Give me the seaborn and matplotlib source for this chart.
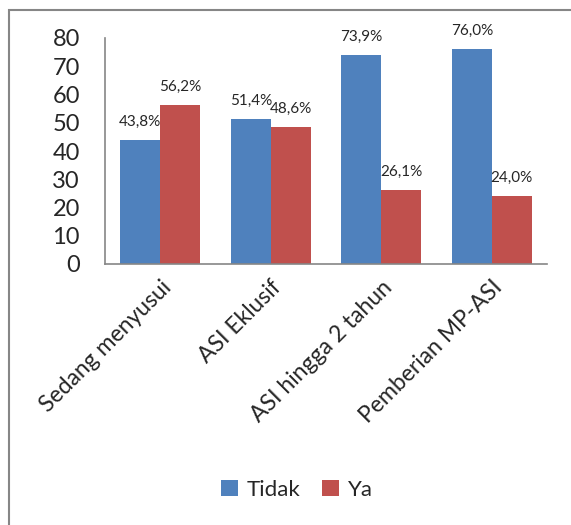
import pandas as pd
import seaborn as sns
import matplotlib.pyplot as plt
from matplotlib.patches import Rectangle

# Data
categories = ['Sedang menyusui', 'ASI Eklusif', 'ASI hingga 2 tahun', 'Pemberian MP-ASI']
tidak = [43.8, 51.4, 73.9, 76.0]
ya = [56.2, 48.6, 26.1, 24.0]
series = ['Tidak', 'Ya']

df = pd.DataFrame({
    'kategori': categories * 2,
    'nilai': tidak + ya,
    'seri': ['Tidak'] * len(categories) + ['Ya'] * len(categories),
})

sns.set_theme(style="white")
plt.rcParams['font.family'] = ['Lato', 'DejaVu Sans']

fig = plt.figure(figsize=(5.71, 5.25), dpi=100)
ax = fig.add_axes([105 / 571, 1 - 264 / 525, 442 / 571, 226 / 525])

palette = {'Tidak': '#4F81BD', 'Ya': '#C0504D'}
sns.barplot(data=df, x='kategori', y='nilai', hue='seri', order=categories,
            hue_order=series, palette=palette, width=0.72, saturation=1,
            linewidth=0, ax=ax, legend=True)

# value labels
for container in ax.containers:
    labels = [f"{v:.1f}".replace('.', ',') + '%' for v in container.datavalues]
    ax.bar_label(container, labels=labels, padding=8, fontsize=11)

ax.set_ylim(0, 80)
ax.set_yticks(range(0, 81, 10))
ax.tick_params(axis='y', labelsize=17, length=0, pad=18)
ax.tick_params(axis='x', labelsize=16.5, length=0, pad=9)
for lbl in ax.get_xticklabels():
    lbl.set_rotation(45)
    lbl.set_ha('right')
    lbl.set_rotation_mode('anchor')
ax.set_xlabel('')
ax.set_ylabel('')

for side in ['top', 'right']:
    ax.spines[side].set_visible(False)
for side in ['left', 'bottom']:
    ax.spines[side].set_color('#868686')
    ax.spines[side].set_linewidth(1.2)

leg = ax.legend(loc='center', bbox_to_anchor=(297 / 571, 1 - 490 / 525), bbox_transform=fig.transFigure,
                ncol=2, frameon=False, fontsize=16, handlelength=0.75, handleheight=0.75,
                handletextpad=0.4, columnspacing=1.0)

# outer chart border (cropped on right and bottom)
fig.patches.append(Rectangle((9 / 571, -0.1), 1.2, 1.1 - 10 / 525, transform=fig.transFigure,
                             fill=False, edgecolor='#868686', linewidth=1.5))

plt.savefig('out.png', dpi=100)
plt.close()
